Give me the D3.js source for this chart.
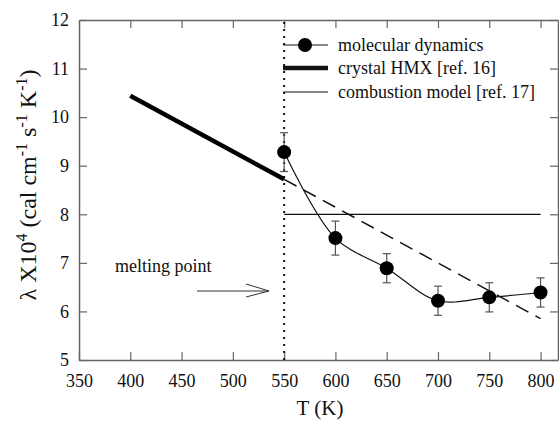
<!DOCTYPE html>
<html>
<head>
<meta charset="utf-8">
<script src="https://cdn.jsdelivr.net/npm/d3@7"></script>
</head>
<body style="margin:0">
<script>
// molecular dynamics points with error bars
var mdTemp = [550, 600, 650, 700, 750, 800];
var mdLambda = [9.28, 7.51, 6.89, 6.22, 6.29, 6.39];
var mdErr = [0.40, 0.35, 0.30, 0.30, 0.30, 0.30];

// crystal HMX: solid below melting point, dashed extrapolation above
var hmxSolidT = [400, 550];
var hmxSolidL = [10.44, 8.72];
var hmxDashT = [550, 800];
var hmxDashL = [8.72, 5.85];

// combustion model
var combT = [550, 800];
var combL = [8.0, 8.0];

var meltT = 550;
var xTicks = [350, 400, 450, 500, 550, 600, 650, 700, 750, 800];
var yTicks = [5, 6, 7, 8, 9, 10, 11, 12];

var serif = "Liberation Serif";

var width = 559, height = 425;
var margin = {top: 20, right: 1, bottom: 65, left: 79};

var svg = d3.select("body").append("svg")
    .attr("width", width)
    .attr("height", height)
    .style("font-family", serif);

var x = d3.scaleLinear().domain([350, 817]).range([margin.left, width - margin.right]);
var y = d3.scaleLinear().domain([5, 12]).range([height - margin.bottom, margin.top]);

var frameColor = "#666";

// axes with inward ticks
function styleAxis(g) {
    g.attr("font-family", null).attr("font-size", null);
    g.select(".domain").attr("stroke", frameColor).attr("stroke-width", 1.5);
    g.selectAll(".tick line").attr("stroke", frameColor).attr("stroke-width", 1.2);
    g.selectAll(".tick text")
        .style("font-family", serif)
        .style("font-size", "18px")
        .attr("fill", "#111");
}

svg.append("g")
    .attr("transform", "translate(0," + y(5) + ")")
    .call(d3.axisBottom(x).tickValues(xTicks).tickSizeInner(-8).tickSizeOuter(0).tickPadding(14).tickFormat(d3.format("d")))
    .call(styleAxis);

svg.append("g")
    .attr("transform", "translate(0," + y(12) + ")")
    .call(d3.axisTop(x).tickValues(xTicks.slice(1)).tickSizeInner(-8).tickSizeOuter(0).tickFormat(""))
    .call(styleAxis);

svg.append("g")
    .attr("transform", "translate(" + x(350) + ",0)")
    .call(d3.axisLeft(y).tickValues(yTicks).tickSizeInner(-8).tickSizeOuter(0).tickPadding(10).tickFormat(d3.format("d")))
    .call(styleAxis);

svg.append("g")
    .attr("transform", "translate(" + (width - margin.right) + ",0)")
    .call(d3.axisRight(y).tickValues(yTicks).tickSizeInner(-8).tickSizeOuter(0).tickFormat(""))
    .call(styleAxis);

// melting point dotted line
svg.append("line")
    .attr("x1", x(meltT)).attr("x2", x(meltT))
    .attr("y1", y(5)).attr("y2", y(12))
    .attr("stroke", "#111")
    .attr("stroke-width", 2)
    .attr("stroke-dasharray", "2,5");

var line = d3.line()
    .x(function (d) { return x(d[0]); })
    .y(function (d) { return y(d[1]); });

// combustion model
svg.append("path")
    .datum(d3.zip(combT, combL))
    .attr("d", line)
    .attr("fill", "none")
    .attr("stroke", "#111")
    .attr("stroke-width", 1.2);

// crystal HMX
svg.append("path")
    .datum(d3.zip(hmxSolidT, hmxSolidL))
    .attr("d", line)
    .attr("fill", "none")
    .attr("stroke", "#000")
    .attr("stroke-width", 4.5);

svg.append("path")
    .datum(d3.zip(hmxDashT, hmxDashL))
    .attr("d", line)
    .attr("fill", "none")
    .attr("stroke", "#111")
    .attr("stroke-width", 1.5)
    .attr("stroke-dasharray", "14,8");

// molecular dynamics curve
var md = d3.zip(mdTemp, mdLambda, mdErr);
svg.append("path")
    .datum(md)
    .attr("d", d3.line()
        .x(function (d) { return x(d[0]); })
        .y(function (d) { return y(d[1]); })
        .curve(d3.curveCatmullRom))
    .attr("fill", "none")
    .attr("stroke", "#111")
    .attr("stroke-width", 1.2);

// error bars
var eb = svg.append("g").attr("stroke", "#555").attr("stroke-width", 1.2);
md.forEach(function (d) {
    var cx = x(d[0]);
    eb.append("line").attr("x1", cx).attr("x2", cx).attr("y1", y(d[1] - d[2])).attr("y2", y(d[1] + d[2]));
    eb.append("line").attr("x1", cx - 4).attr("x2", cx + 4).attr("y1", y(d[1] - d[2])).attr("y2", y(d[1] - d[2]));
    eb.append("line").attr("x1", cx - 4).attr("x2", cx + 4).attr("y1", y(d[1] + d[2])).attr("y2", y(d[1] + d[2]));
});

svg.append("g").selectAll("circle")
    .data(md)
    .enter()
    .append("circle")
    .attr("cx", function (d) { return x(d[0]); })
    .attr("cy", function (d) { return y(d[1]); })
    .attr("r", 7)
    .attr("fill", "#000");

// legend
var lg = svg.append("g").attr("transform", "translate(283,0)");
var legendRows = [
    {label: "molecular dynamics", y: 45, w: 1.2, marker: true},
    {label: "crystal HMX [ref. 16]", y: 68, w: 4.5, marker: false},
    {label: "combustion model [ref. 17]", y: 92, w: 1.2, marker: false}
];
legendRows.forEach(function (r) {
    lg.append("line").attr("x1", 0).attr("x2", 45).attr("y1", r.y).attr("y2", r.y)
        .attr("stroke", "#111").attr("stroke-width", r.w);
    if (r.marker) {
        lg.append("circle").attr("cx", 22).attr("cy", r.y).attr("r", 7).attr("fill", "#000");
    }
    lg.append("text").attr("x", 55).attr("y", r.y + 6)
        .style("font-family", serif)
        .style("font-size", "18px")
        .attr("fill", "#111")
        .text(r.label);
});

// melting point annotation
svg.append("text")
    .attr("x", 115).attr("y", 272)
    .style("font-family", serif)
    .style("font-size", "18px")
    .attr("fill", "#111")
    .text("melting point");

var ar = svg.append("g").attr("stroke", "#333").attr("stroke-width", 1).attr("fill", "none");
ar.append("line").attr("x1", 197).attr("x2", 269).attr("y1", 291).attr("y2", 291);
ar.append("polyline").attr("points", "246,284 269,291 246,297");

// axis titles
svg.append("text")
    .attr("x", 320).attr("y", 415)
    .attr("text-anchor", "middle")
    .style("font-family", serif)
    .style("font-size", "21px")
    .attr("fill", "#111")
    .text("T (K)");

var yl = svg.append("text")
    .attr("transform", "translate(36,185) rotate(-90)")
    .attr("text-anchor", "middle")
    .style("font-family", serif)
    .style("font-size", "24px")
    .attr("fill", "#111");
yl.append("tspan").text("\u03bb X10");
yl.append("tspan").attr("dy", -9).style("font-size", "16px").text("4");
yl.append("tspan").attr("dy", 9).text(" (cal cm");
yl.append("tspan").attr("dy", -9).style("font-size", "16px").text("-1");
yl.append("tspan").attr("dy", 9).text(" s");
yl.append("tspan").attr("dy", -9).style("font-size", "16px").text("-1");
yl.append("tspan").attr("dy", 9).text(" K");
yl.append("tspan").attr("dy", -9).style("font-size", "16px").text("-1");
yl.append("tspan").attr("dy", 9).text(")");
</script>
</body>
</html>
